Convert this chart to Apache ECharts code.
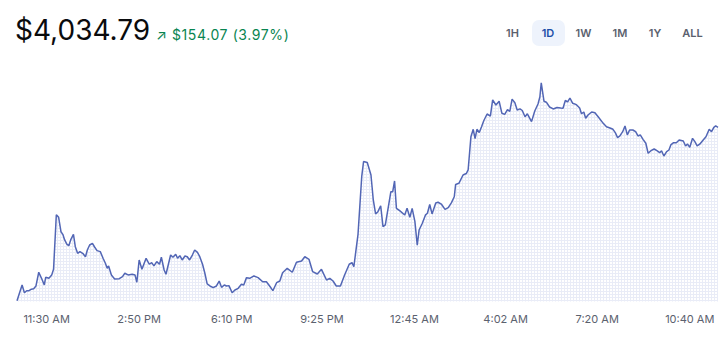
<!DOCTYPE html>
<html><head><meta charset="utf-8">
<script src="https://cdn.jsdelivr.net/npm/echarts@6/dist/echarts.min.js"></script>
<style>
html,body{margin:0;padding:0;background:#fff;width:720px;height:342px;overflow:hidden;font-family:Inter,"Noto Sans",sans-serif}
#chart{position:absolute;left:0;top:0;width:720px;height:342px}
.hdr{position:absolute;white-space:nowrap;z-index:2}
#price{left:15px;top:16px;font-size:28px;line-height:28px;color:#0a0b0d;font-weight:400}
#chg{left:156px;top:27px;font-size:14px;line-height:16px;color:#098551;letter-spacing:0.6px}
.btn{position:absolute;z-index:2;top:20px;height:26px;line-height:26px;width:33px;text-align:center;font-size:11px;font-weight:600;color:#5b616e;border-radius:7px}
.sel{background:#eef3fc;color:#1c4ea8}
</style></head>
<body>
<div id="chart"></div>
<div id="price" class="hdr"></div>
<div id="chg" class="hdr"></div>
<div id="btns"></div>
<script>
// ---- data ----
const headlinePrice = '$4,034.79';
const changeAbs = '$154.07';
const changePct = '3.97%';
const ranges = ['1H', '1D', '1W', '1M', '1Y', 'ALL'];
const selectedRange = '1D';
// minutes since midnight of day 1 (values > 1440 are on the next day)
const times = [626,637,642,647,652,657,662,667,673,679,685,688,695,701,705,711,716,721,725,729,734,738,742,748,752,757,762,768,774,778,783,789,794,799,806,812,817,821,824,830,837,847,854,859,
866,875,881,885,890,896,905,912,917,922,928,934,938,944,948,958,963,969,973,978,983,989,994,999,1005,1010,1016,1021,1027,1032,1037,1043,1050,1057,1063,1068,1074,1079,1084,1091,1097,1104,1111,
1116,1122,1129,1138,1147,1157,1165,1172,1179,1187,1194,1200,1210,1221,1230,1241,1248,1257,1265,1275,1284,1295,1302,1309,1316,1325,1334,1344,1350,1354,1363,1371,1375,1383,
1391,1396,1401,1406,1412,1417,1422,1428,1434,1438,1442,1446,1453,1464,1469,1475,1480,1486,1491,1495,1502,1509,1513,1518,1523,1531,1536,1543,1551,1558,1565,1571,1574,1581,1590,1597,1601,1607,
1612,1616,1620,1625,1630,1635,1642,1649,1654,1661,1668,1674,1680,1686,1691,1696,1702,1707,1713,1718,1724,1729,1738,1745,1752,1756,1759,1765,1770,1777,1785,1793,1801,1806,1811,1816,1821,1827,1835,1842,1846,1851,1855,1860,1868,1875,1882,
1893,1900,1909,1914,1919,1924,1929,1935,1940,1945,1950,1957,1963,1968,1973,1979,1985,1990,1996,2003,2009,2015,2019,2024,2030,2035,2039,2045,2051,2057,2066,2071,2075,2080,2086,2091,2096,2102,2109,2115,2122,2127,2132,2136,2141];
const prices = [3880.7,3894.7,3887.8,3889.6,3889.6,3890.9,3891.4,3893.8,3906.0,3900.6,3894.7,3901.5,3900.6,3903.6,3908.6,3957.1,3954.8,3942.0,3939.7,3934.7,3930.8,3929.6,3934.7,3939.7,3928.7,3922.8,3924.3,3922.8,3919.8,3925.8,3930.2,3931.7,3928.2,3925.2,3924.3,3918.4,3914.0,3909.5,3911.6,3903.6,3900.0,3900.3,3902.1,3905.1,
3903.6,3904.2,3903.6,3897.1,3916.9,3908.6,3918.4,3913.1,3914.5,3911.6,3915.4,3913.1,3919.3,3908.0,3904.2,3921.3,3919.3,3922.0,3918.4,3920.7,3916.9,3920.4,3919.8,3916.9,3921.3,3925.8,3923.7,3919.8,3913.1,3905.1,3895.6,3893.8,3892.3,3893.8,3898.2,3892.6,3894.7,3893.8,3894.1,3887.8,3890.2,3891.7,3895.3,
3894.7,3901.2,3900.6,3902.7,3901.2,3897.6,3897.6,3893.8,3889.6,3896.7,3898.2,3905.6,3909.5,3906.0,3914.9,3916.0,3919.8,3917.5,3906.5,3904.4,3908.6,3899.1,3900.6,3898.2,3893.8,3893.8,3903.6,3913.1,3914.5,3910.9,3939.7,3990.9,4004.4,4003.5,
3992.4,3970.2,3957.8,3959.8,3965.1,3946.5,3948.0,3962.8,3977.6,3977.6,3987.1,3962.8,3960.7,3956.9,3962.8,3954.8,3962.8,3950.9,3930.0,3943.5,3949.5,3957.0,3958.4,3966.2,3957.8,3967.5,3968.2,3966.6,3961.8,3963.4,3967.8,3973.1,3984.0,3985.0,3992.4,3993.7,3996.9,4026.4,
4033.0,4024.8,4033.0,4030.2,4035.3,4040.8,4046.6,4044.8,4059.1,4054.6,4057.9,4047.2,4046.3,4050.4,4049.0,4059.8,4056.6,4050.2,4051.2,4049.7,4044.2,4046.8,4039.8,4049.3,4055.5,4061.7,4074.3,4057.9,4057.1,4052.8,4051.1,4052.4,4051.9,4051.7,4058.6,4057.3,4060.8,4056.1,4054.9,4051.9,4046.8,4048.4,4042.8,4045.7,4048.4,4047.7,4044.2,
4038.3,4035.3,4033.9,4033.0,4030.0,4025.6,4027.1,4030.9,4036.0,4028.0,4032.4,4032.4,4030.9,4027.1,4028.0,4024.1,4020.6,4011.7,4014.0,4015.5,4014.0,4012.2,4014.0,4009.3,4013.1,4014.6,4019.1,4021.1,4021.1,4023.5,4022.6,4018.2,4020.0,4017.0,4025.0,4022.0,4018.2,4020.0,4023.5,4026.4,4033.0,4030.9,4034.8,4036.0,4034.79];
const tickValues = [690, 890, 1090, 1285, 1485, 1682, 1880, 2080];
const tickLabels = ['11:30 AM', '2:50 PM', '6:10 PM', '9:25 PM', '12:45 AM', '4:02 AM', '7:20 AM', '10:40 AM'];

// ---- header ----
document.getElementById('price').textContent = headlinePrice;
document.getElementById('chg').textContent = '\u2197 ' + changeAbs + ' (' + changePct + ')';
const btnCenters = [512.5, 548, 583.5, 620, 655, 692.5];
const btns = document.getElementById('btns');
ranges.forEach((r, i) => {
  const d = document.createElement('div');
  d.className = 'btn' + (r === selectedRange ? ' sel' : '');
  d.style.left = (btnCenters[i] - 16.5) + 'px';
  d.textContent = r;
  btns.appendChild(d);
});

// ---- chart ----
const tile = document.createElement('canvas');
tile.width = 3; tile.height = 3;
const tc = tile.getContext('2d');
tc.fillStyle = '#ffffff'; tc.fillRect(0, 0, 3, 3);
tc.fillStyle = '#e9ecf7'; tc.fillRect(0, 0, 3, 1); tc.fillRect(0, 0, 1, 3);

const chart = echarts.init(document.getElementById('chart'), null, {renderer: 'svg'});
chart.setOption({
  animation: false,
  grid: {left: 17, right: 2, top: 70, bottom: 40.5},
  xAxis: {
    type: 'value', min: times[0], max: times[times.length - 1],
    axisLine: {show: false}, axisTick: {show: false}, splitLine: {show: false},
    axisLabel: {
      customValues: tickValues,
      formatter: v => { const k = tickValues.indexOf(v); return k >= 0 ? tickLabels[k] : ''; },
      color: '#5b616e', fontSize: 11, margin: 12, fontFamily: 'Inter'
    }
  },
  yAxis: {type: 'value', min: 3880.0, max: 4085.7, show: false},
  series: [{
    type: 'line', symbol: 'none',
    data: times.map((t, i) => [t, prices[i]]),
    lineStyle: {color: '#5266b5', width: 1.5},
    areaStyle: {color: {image: tile, repeat: 'repeat'}, opacity: 1}
  }]
});
</script>
</body></html>
